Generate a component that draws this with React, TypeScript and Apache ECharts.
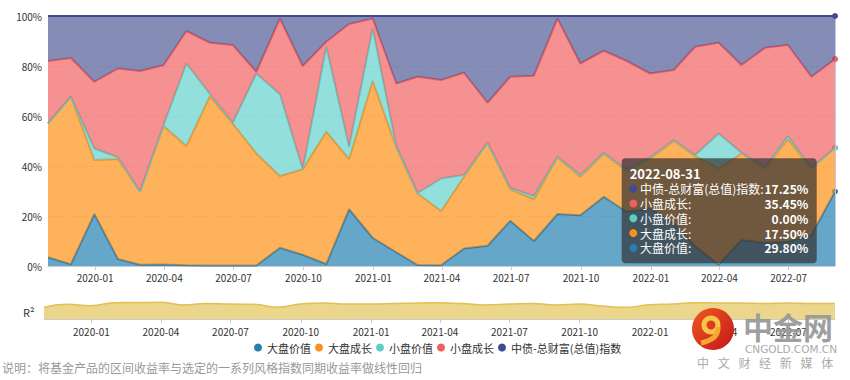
import React, { useEffect, useRef } from 'react';
import * as echarts from 'echarts';

const dates = [
  '2019-10-31', '2019-11-30', '2019-12-31', '2020-01-31', '2020-02-29', '2020-03-31', '2020-04-30',
  '2020-05-31', '2020-06-30', '2020-07-31', '2020-08-31', '2020-09-30', '2020-10-31', '2020-11-30',
  '2020-12-31', '2021-01-31', '2021-02-28', '2021-03-31', '2021-04-30', '2021-05-31', '2021-06-30',
  '2021-07-31', '2021-08-31', '2021-09-30', '2021-10-31', '2021-11-30', '2021-12-31', '2022-01-31',
  '2022-02-28', '2022-03-31', '2022-04-30', '2022-05-31', '2022-06-30', '2022-07-31', '2022-08-31',
];

const seriesNames = ['大盘价值', '大盘成长', '小盘价值', '小盘成长', '中债-总财富(总值)指数'];

const largeValue = [3.5, 0.7, 20.8, 2.8, 0.5, 0.6, 0.3, 0.2, 0.2, 0.2, 7.3, 4.5, 0.8, 22.7, 11.3, 5.5, 0.4, 0.3, 7.0, 8.1, 18.1, 10.0, 20.8, 20.3, 27.7, 21.7, 23.0, 17.0, 8.0, 0.5, 10.4, 9.3, 9.7, 12.4, 29.8];
const largeGrowth = [53.5, 67.0, 21.6, 40.0, 29.2, 55.4, 47.7, 67.8, 56.8, 44.8, 28.7, 34.2, 52.9, 20.1, 62.7, 42.0, 28.6, 21.7, 28.7, 41.2, 12.6, 16.7, 22.7, 15.4, 17.3, 16.3, 20.0, 33.0, 36.0, 38.5, 34.6, 29.7, 41.0, 26.6, 17.5];
const smallValue = [0, 0, 4.6, 0.7, 0, 0.4, 33.0, 0.8, 0.3, 32.0, 32.7, 0, 34.0, 4.9, 21.0, 0.5, 0.2, 13.0, 0.7, 0, 0.5, 1.3, 0.2, 0.7, 0.3, 0.5, 0.5, 0.4, 0.4, 14.0, 0.3, 0.5, 1.3, 0.3, 0];
const smallGrowth = [25.0, 15.5, 26.7, 35.5, 48.3, 23.9, 13.0, 20.5, 31.1, 0.7, 30.3, 41.3, 2.0, 49.1, 4.0, 25.0, 46.5, 39.4, 40.9, 16.0, 44.5, 48.1, 55.3, 44.6, 40.8, 43.5, 33.5, 28.0, 43.3, 36.3, 35.1, 47.8, 36.4, 36.4, 35.45];
const bondIndex = [18.0, 16.8, 26.3, 21.0, 22.0, 19.7, 6.0, 10.7, 11.6, 22.3, 1.0, 20.0, 10.3, 3.2, 1.0, 27.0, 24.3, 25.6, 22.7, 34.7, 24.3, 23.9, 1.0, 19.0, 13.9, 18.0, 23.0, 21.6, 12.3, 10.7, 19.6, 12.7, 11.6, 24.3, 17.25];

const r2Values = [0.53, 0.67, 0.60, 0.74, 0.75, 0.76, 0.64, 0.71, 0.68, 0.67, 0.53, 0.68, 0.73, 0.68, 0.68, 0.70, 0.73, 0.74, 0.70, 0.64, 0.68, 0.71, 0.64, 0.68, 0.59, 0.53, 0.65, 0.68, 0.74, 0.73, 0.73, 0.71, 0.73, 0.71, 0.71];

const yTickStep = 20;
const note = '说明：将基金产品的区间收益率与选定的一系列风格指数同期收益率做线性回归';
const watermarkChars = ['中', '文', '财', '经', '新', '媒', '体'];

const lineColors = ['#2a7db1', '#f7901e', '#5fcdc7', '#ee5f5f', '#3f4b8e'];
const areaColors = ['#2480b2', '#fc9115', '#65d1cd', '#f26363', '#515c98'];

export default function App() {
  const ref = useRef<HTMLDivElement>(null);
  useEffect(() => {
    document.body.style.margin = '0';
    const chart = echarts.init(ref.current!, null, { renderer: 'svg' });
    const allSeries = [largeValue, largeGrowth, smallValue, smallGrowth, bondIndex];
    const last = dates.length - 1;
    const day = 86400000;
    const tMin = dates[0];
    const tMax = dates[last];
    const font = '"Noto Sans CJK SC", "Noto Sans", sans-serif';
    const TOP = 100;

    const timeAxis = (gridIndex: number, margin: number) => ({
      type: 'time',
      gridIndex,
      min: tMin,
      max: tMax,
      splitNumber: 11,
      minInterval: 91 * day,
      maxInterval: 91 * day,
      axisLine: { lineStyle: { color: '#cccccc' } },
      axisTick: { show: true, length: 4, lineStyle: { color: '#cccccc' } },
      axisLabel: {
        formatter: '{yyyy}-{MM}',
        fontSize: 10,
        color: '#333',
        margin,
        showMinLabel: false,
        showMaxLabel: false,
      },
      splitLine: { show: false },
    });

    const mainSeries = allSeries.map((vals, i) => ({
      name: seriesNames[i],
      type: 'line',
      stack: 'total',
      xAxisIndex: 0,
      yAxisIndex: 0,
      data: vals.map((v, j) => [dates[j], v]),
      symbol: 'circle',
      showSymbol: true,
      showAllSymbol: true,
      symbolSize: (_v: any, p: any) => (p.dataIndex === last ? 6 : 0),
      itemStyle: { color: lineColors[i] },
      lineStyle: { color: lineColors[i], width: 2 },
      areaStyle: { color: areaColors[i], opacity: 0.7 },
      emphasis: { disabled: true },
      z: 2 + i,
      markLine:
        i === 4
          ? {
              silent: true,
              symbol: 'none',
              label: { show: false },
              lineStyle: { color: '#c3c7e6', width: 1, type: 'solid' },
              data: [{ xAxis: dates[last] }],
            }
          : undefined,
    }));

    const tipOrder = [4, 3, 2, 1, 0];
    const tipRowY0 = 30.4;
    const tipRowStep = 14.8;
    const tipChildren: any[] = [
      {
        type: 'rect',
        z: TOP,
        shape: { x: 0, y: 0, width: 195, height: 105, r: 4 },
        style: { fill: 'rgba(50,50,50,0.7)' },
      },
      {
        type: 'text',
        z: TOP + 1,
        x: 8,
        y: 15,
        style: {
          text: dates[last],
          fill: '#fff',
          fontSize: 13,
          fontWeight: 'bold',
          fontFamily: font,
          verticalAlign: 'middle',
        },
      },
    ];
    tipOrder.forEach((si, k) => {
      const cy = tipRowY0 + tipRowStep * k;
      tipChildren.push({
        type: 'circle',
        z: TOP + 1,
        shape: { cx: 11.6, cy, r: 4 },
        style: { fill: lineColors[si] },
      });
      tipChildren.push({
        type: 'text',
        z: TOP + 1,
        x: 18.3,
        y: cy,
        style: {
          text: seriesNames[si] + ':',
          fill: '#fff',
          fontSize: 12,
          fontFamily: font,
          verticalAlign: 'middle',
        },
      });
      tipChildren.push({
        type: 'text',
        z: TOP + 1,
        x: 186.6,
        y: cy,
        style: {
          text: allSeries[si][last].toFixed(2) + '%',
          fill: '#fff',
          fontSize: 12,
          fontWeight: 'bold',
          fontFamily: font,
          align: 'right',
          verticalAlign: 'middle',
        },
      });
    });

    const wmChildren: any[] = [
      {
        type: 'circle',
        z: TOP,
        shape: { cx: 0, cy: 0, r: 21 },
        style: {
          fill: new echarts.graphic.LinearGradient(0, 0, 1, 1, [
            { offset: 0, color: '#ee5a1e' },
            { offset: 1, color: '#c4161c' },
          ]),
        },
      },
      {
        type: 'arc',
        z: TOP + 1,
        shape: { cx: -2, cy: -4, r: 7, startAngle: 0, endAngle: Math.PI * 2 },
        style: { stroke: '#f7c445', lineWidth: 5, fill: 'none' },
      },
      {
        type: 'bezierCurve',
        z: TOP + 1,
        shape: { x1: 5, y1: -2, x2: -12, y2: 14, cpx1: 6, cpy1: 10 },
        style: { stroke: '#f5a934', lineWidth: 5, fill: 'none' },
      },
      {
        type: 'text',
        z: TOP,
        x: 30,
        y: -3,
        style: {
          text: '中金网',
          fill: 'rgba(150,150,150,0.92)',
          fontSize: 30,
          fontWeight: 'bold',
          fontFamily: font,
          verticalAlign: 'middle',
        },
      },
      {
        type: 'text',
        z: TOP,
        x: 32,
        y: 20,
        style: {
          text: 'CNGOLD.COM.CN',
          fill: '#aaaaaa',
          fontSize: 10.5,
          fontFamily: '"DejaVu Sans", sans-serif',
          verticalAlign: 'middle',
        },
      },
    ];
    watermarkChars.forEach((c, k) => {
      wmChildren.push({
        type: 'text',
        z: TOP,
        x: -10 + k * 20.7,
        y: 33,
        style: {
          text: c,
          fill: '#aaaaaa',
          fontSize: 12,
          fontFamily: font,
          align: 'center',
          verticalAlign: 'middle',
        },
      });
    });

    const option: any = {
      animation: false,
      textStyle: { fontFamily: font },
      tooltip: { show: false },
      legend: {
        data: seriesNames,
        left: 249,
        top: 337,
        icon: 'circle',
        itemWidth: 8,
        itemHeight: 8,
        itemGap: 4,
        textStyle: { fontSize: 11, color: '#333' },
      },
      grid: [
        { left: 48, right: 15, top: 16, height: 250 },
        { left: 44, right: 15, top: 297, height: 22 },
      ],
      xAxis: [timeAxis(0, 6), timeAxis(1, 7)],
      yAxis: [
        {
          type: 'value',
          gridIndex: 0,
          min: 0,
          max: 100,
          interval: yTickStep,
          axisLine: { show: false },
          axisTick: { show: false },
          axisLabel: { formatter: '{value}%', fontSize: 10, color: '#333', margin: 6 },
          splitLine: { lineStyle: { color: '#e6e6e6', type: 'dashed' } },
        },
        {
          type: 'value',
          gridIndex: 1,
          min: 0,
          max: 1,
          show: false,
          splitLine: { show: false },
        },
      ],
      series: [
        ...mainSeries,
        {
          name: 'R²',
          type: 'line',
          xAxisIndex: 1,
          yAxisIndex: 1,
          smooth: true,
          showSymbol: false,
          data: r2Values.map((v, j) => [dates[j], v]),
          lineStyle: { color: '#e3bf55', width: 1.5 },
          areaStyle: { color: '#ebd68c', opacity: 1 },
          emphasis: { disabled: true },
        },
      ],
      graphic: [
        {
          type: 'text',
          left: 23,
          top: 306,
          style: { text: 'R²', fill: '#333', fontSize: 11, fontFamily: font },
        },
        {
          type: 'text',
          left: 2,
          top: 361,
          style: { text: note, fill: '#999', fontSize: 12, fontFamily: font },
        },
        {
          type: 'group',
          x: 621.7,
          y: 158.3,
          z: TOP,
          children: tipChildren,
        },
        {
          type: 'group',
          x: 713,
          y: 329,
          z: TOP,
          children: wmChildren,
        },
      ],
    };
    chart.setOption(option);
    return () => chart.dispose();
  }, []);
  return <div ref={ref} style={{ width: 850, height: 380 }} />;
}
